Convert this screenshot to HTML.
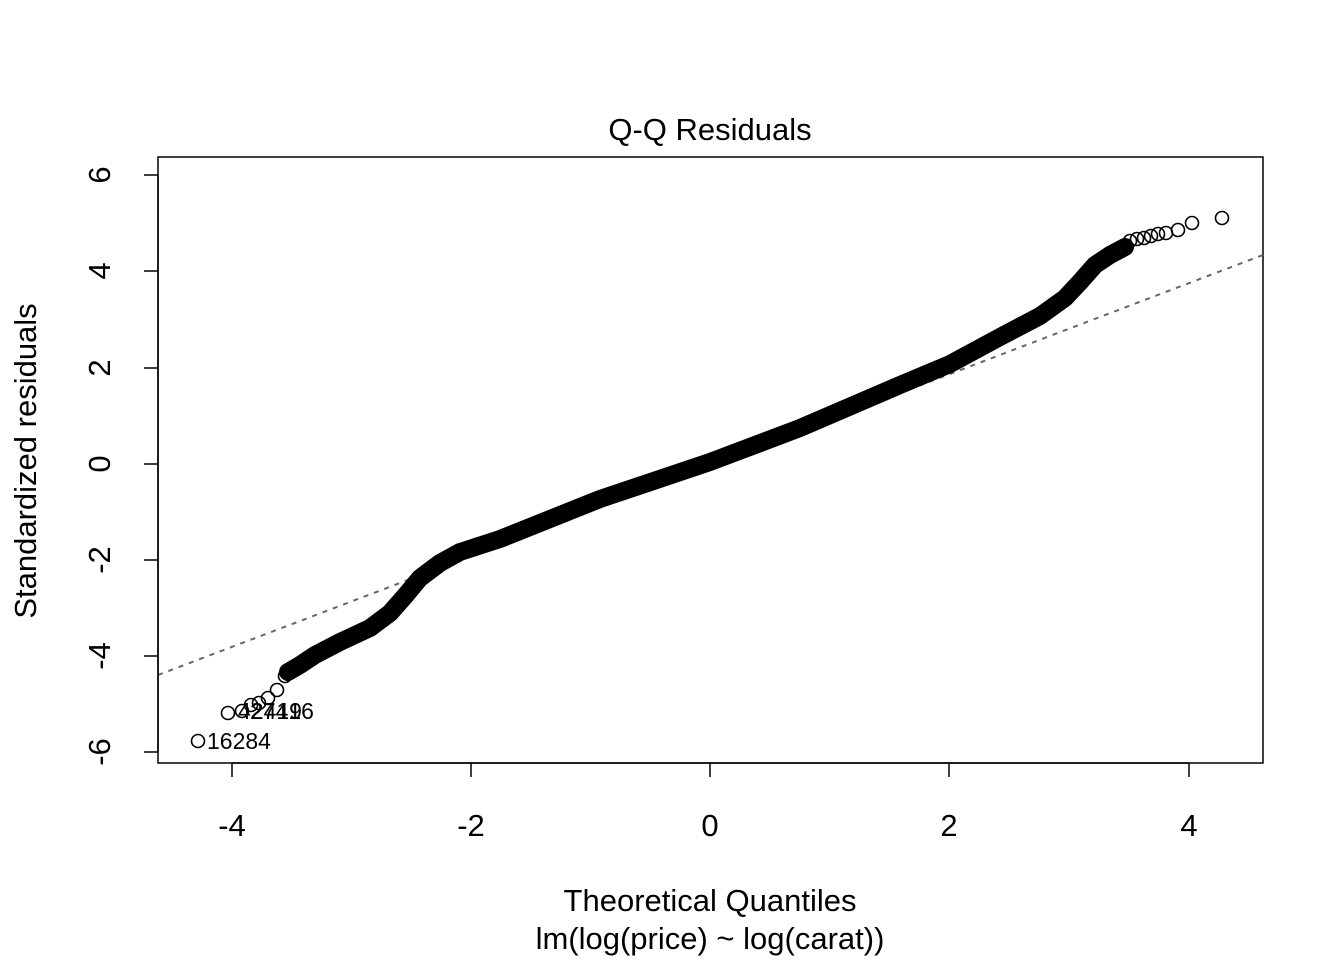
<!DOCTYPE html>
<html><head><style>body{margin:0;background:#fff}</style></head><body>
<svg width="1344" height="960" xmlns="http://www.w3.org/2000/svg" font-family="Liberation Sans, Arial, sans-serif">
<rect width="1344" height="960" fill="#fff"/>
<text x="710" y="140" font-size="31" text-anchor="middle">Q-Q Residuals</text>
<rect x="158" y="157" width="1105" height="606" fill="none" stroke="#000" stroke-width="1.5"/>
<line x1="158" y1="675" x2="1263" y2="255" stroke="#666" stroke-width="2" stroke-dasharray="5,6"/>
<polyline fill="none" stroke="#000" stroke-width="18" stroke-linejoin="round" stroke-linecap="round" points="288,672 300,665 315,655 340,642 370,628 390,613 405,596 420,578 440,563 460,552 500,539 600,499 710,462 800,428 900,385 950,364 1000,337 1040,316 1065,298 1080,282 1095,265 1110,255 1125,247"/>
<g fill="none" stroke="#000" stroke-width="1.6">
<circle cx="1130" cy="241" r="6.5"/><circle cx="1137" cy="239" r="6.5"/><circle cx="1144" cy="238" r="6.5"/><circle cx="1151" cy="236" r="6.5"/><circle cx="1158" cy="234" r="6.5"/><circle cx="1166" cy="233" r="6.5"/><circle cx="1178" cy="230" r="6.5"/><circle cx="1192" cy="223" r="6.5"/><circle cx="1222" cy="218" r="6.5"/>
<circle cx="292" cy="670" r="6.5"/><circle cx="285" cy="676" r="6.5"/><circle cx="277" cy="690" r="6.5"/><circle cx="268" cy="698" r="6.5"/><circle cx="259" cy="703" r="6.5"/><circle cx="251" cy="705" r="6.5"/><circle cx="242" cy="711" r="6.5"/><circle cx="228" cy="713" r="6.5"/><circle cx="198" cy="741" r="6.5"/>
</g>
<g font-size="23"><text x="207" y="749">16284</text><text x="238" y="719">42419</text><text x="250" y="719">27416</text></g>
<g stroke="#000" stroke-width="1.5">
<line x1="232" y1="763" x2="1189" y2="763"/>
<line x1="232" y1="763" x2="232" y2="777"/><line x1="471" y1="763" x2="471" y2="777"/><line x1="710" y1="763" x2="710" y2="777"/><line x1="949" y1="763" x2="949" y2="777"/><line x1="1189" y1="763" x2="1189" y2="777"/>
<line x1="158" y1="175" x2="158" y2="752"/>
<line x1="144" y1="175" x2="158" y2="175"/><line x1="144" y1="271" x2="158" y2="271"/><line x1="144" y1="368" x2="158" y2="368"/><line x1="144" y1="464" x2="158" y2="464"/><line x1="144" y1="560" x2="158" y2="560"/><line x1="144" y1="656" x2="158" y2="656"/><line x1="144" y1="752" x2="158" y2="752"/>
</g>
<g font-size="31" text-anchor="middle">
<text x="232" y="836">-4</text><text x="471" y="836">-2</text><text x="710" y="836">0</text><text x="949" y="836">2</text><text x="1189" y="836">4</text>
<text x="710" y="911">Theoretical Quantiles</text>
<text x="710" y="949">lm(log(price) ~ log(carat))</text>
</g>
<g font-size="31" text-anchor="middle">
<text transform="translate(110,175) rotate(-90)">6</text>
<text transform="translate(110,271) rotate(-90)">4</text>
<text transform="translate(110,368) rotate(-90)">2</text>
<text transform="translate(110,464) rotate(-90)">0</text>
<text transform="translate(110,560) rotate(-90)">-2</text>
<text transform="translate(110,656) rotate(-90)">-4</text>
<text transform="translate(110,752) rotate(-90)">-6</text>
<text transform="translate(36,461) rotate(-90)">Standardized residuals</text>
</g>
</svg>
</body></html>
